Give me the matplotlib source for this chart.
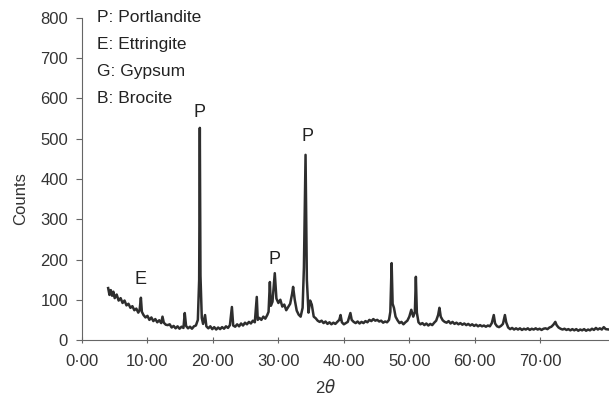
import matplotlib.pyplot as plt
from matplotlib.ticker import FuncFormatter

plt.rcParams['font.family'] = ['Liberation Sans', 'DejaVu Sans']

# 2-theta (degrees) and counts
two_theta = [
    4.0, 4.2, 4.4, 4.6, 4.8, 5.0, 5.3, 5.6, 5.9, 6.2, 6.5, 6.8, 7.1, 7.4, 7.7,
    8.0, 8.3, 8.6, 8.8, 9.0, 9.15, 9.4, 9.7, 10.0, 10.3, 10.6, 10.9, 11.2, 11.5,
    11.8, 12.1, 12.3, 12.5, 12.8, 13.1, 13.4, 13.7, 14.0, 14.3, 14.6, 14.9, 15.2,
    15.5, 15.7, 15.9, 16.2, 16.5, 16.8, 17.1, 17.4, 17.7, 17.9, 18.0, 18.1, 18.3,
    18.5, 18.8, 19.0, 19.3, 19.6, 19.9, 20.2, 20.5, 20.8, 21.1, 21.4, 21.7, 22.0,
    22.3, 22.6, 22.9, 23.1, 23.4, 23.7, 24.0, 24.3, 24.6, 24.9, 25.2, 25.5, 25.8,
    26.1, 26.4, 26.7, 26.85, 27.1, 27.4, 27.7, 28.0, 28.3, 28.5, 28.7, 28.85,
    29.1, 29.45, 29.7, 30.0, 30.3, 30.6, 30.9, 31.2, 31.5, 31.8, 32.1, 32.25,
    32.5, 32.8, 33.1, 33.4, 33.7, 33.9, 34.15, 34.35, 34.6, 34.85, 35.1, 35.4,
    35.7, 36.0, 36.3, 36.6, 36.9, 37.2, 37.5, 37.8, 38.1, 38.4, 38.7, 39.0, 39.3,
    39.5, 39.7, 40.0, 40.3, 40.6, 41.0, 41.2, 41.5, 41.8, 42.1, 42.4, 42.7, 43.0,
    43.3, 43.6, 43.9, 44.2, 44.5, 44.8, 45.1, 45.4, 45.7, 46.0, 46.3, 46.6, 46.9,
    47.1, 47.3, 47.45, 47.65, 47.9, 48.2, 48.5, 48.8, 49.1, 49.4, 49.7, 50.0,
    50.3, 50.6, 50.85, 51.0, 51.15, 51.4, 51.7, 52.0, 52.3, 52.6, 52.9, 53.2,
    53.5, 53.8, 54.1, 54.4, 54.6, 54.8, 55.1, 55.4, 55.7, 56.0, 56.3, 56.6, 56.9,
    57.2, 57.5, 57.8, 58.1, 58.4, 58.7, 59.0, 59.3, 59.6, 59.9, 60.2, 60.5, 60.8,
    61.1, 61.4, 61.7, 62.0, 62.3, 62.6, 62.9, 63.1, 63.4, 63.7, 64.0, 64.3, 64.6,
    64.8, 65.1, 65.4, 65.7, 66.0, 66.3, 66.6, 66.9, 67.2, 67.5, 67.8, 68.1, 68.4,
    68.7, 69.0, 69.3, 69.6, 69.9, 70.2, 70.5, 70.8, 71.1, 71.4, 71.7, 72.0, 72.3,
    72.5, 72.8, 73.1, 73.4, 73.7, 74.0, 74.3, 74.6, 74.9, 75.2, 75.5, 75.8, 76.1,
    76.4, 76.7, 77.0, 77.3, 77.6, 77.9, 78.2, 78.5, 78.8, 79.1, 79.4, 79.7, 80.0,
    80.5,
]
counts = [
    129, 112, 124, 110, 120, 104, 113, 98, 104, 92, 98, 86, 90, 80, 84,
    74, 78, 68, 74, 105, 70, 62, 56, 60, 50, 56, 47, 52, 44,
    49, 42, 58, 43, 38, 37, 39, 31, 35, 29, 34, 28, 33,
    30, 67, 35, 29, 33, 28, 34, 36, 50, 150, 527, 160, 55,
    40, 62, 34, 29, 34, 27, 32, 26, 31, 27, 32, 28, 34,
    30, 37, 82, 36, 33, 39, 34, 41, 36, 43, 39, 45, 41,
    48, 44, 107, 50, 55, 50, 58, 53, 62, 70, 144, 85,
    95, 166, 103, 92, 100, 83, 88, 74, 82, 90, 115, 132,
    100, 73, 63, 58, 80, 180, 460, 150, 68, 98, 88, 58,
    54, 48, 45, 48, 42, 46, 40, 44, 39, 43, 40, 45, 50,
    62, 44, 39, 42, 45, 67, 50, 45, 42, 46, 41, 45, 42,
    47, 44, 50, 47, 52, 48, 50, 46, 48, 43, 46, 44, 50,
    70, 191, 90, 80, 58, 49, 42, 45, 39, 44, 48, 58,
    75, 58, 70, 157, 68, 44, 39, 42, 37, 41, 36, 40,
    37, 43, 48, 62, 80, 58, 49, 45, 43, 47, 41, 45, 40,
    43, 39, 42, 38, 41, 37, 40, 36, 39, 35, 38, 34, 37,
    34, 36, 33, 36, 34, 42, 62, 41, 34, 32, 35, 40, 62,
    44, 31, 27, 30, 26, 29, 26, 29, 25, 28, 26, 29, 25,
    28, 26, 29, 26, 28, 25, 28, 29, 27, 31, 33, 38, 45,
    37, 31, 28, 26, 28, 25, 27, 24, 27, 24, 27, 23, 26,
    24, 27, 23, 26, 24, 28, 25, 30, 26, 29, 26, 32, 27,
    26,
]

# peak labels
peak_letters = ['E', 'P', 'P', 'P']
peak_pos = [9.0, 18.0, 29.4, 34.4]
peak_text_y = [128, 545, 178, 484]

phase_legend = ['P: Portlandite', 'E: Ettringite', 'G: Gypsum', 'B: Brocite']
legend_y = [800, 733, 666, 599]

fig = plt.figure(figsize=(6.09, 4.0), dpi=100)
ax = fig.add_axes([0.1346, 0.15, 0.8654, 0.805])

ax.plot(two_theta, counts, color='#2e2e2e', lw=1.8)

for letter, x, y in zip(peak_letters, peak_pos, peak_text_y):
    ax.text(x, y, letter, ha='center', va='bottom', fontsize=13, color='#222222')

for label, y in zip(phase_legend, legend_y):
    ax.text(2.3, y, label, ha='left', va='center', fontsize=12.5, color='#222222')

ax.set_xlim(0, 80.5)
ax.set_ylim(0, 800)
ax.set_yticks(range(0, 801, 100))
ax.set_xticks(range(0, 71, 10))
ax.xaxis.set_major_formatter(FuncFormatter(lambda v, p: f"{v:.2f}".replace('.', '\u00b7')))

for side in ['top', 'right']:
    ax.spines[side].set_visible(False)
for side in ['left', 'bottom']:
    ax.spines[side].set_color('#666666')
    ax.spines[side].set_linewidth(0.8)

ax.tick_params(axis='y', direction='out', length=4, width=0.8, color='#666666',
               labelsize=12, labelcolor='#333333', pad=6)
ax.tick_params(axis='x', direction='inout', length=4, width=0.8, color='#666666',
               labelsize=12, labelcolor='#333333', pad=8)

ax.set_ylabel('Counts', fontsize=12, color='#333333')
ax.yaxis.set_label_coords(-0.102, 0.438)
ax.set_xlabel(r'2$\theta$', fontsize=12, color='#333333')
ax.xaxis.set_label_coords(0.463, -0.118)

fig.savefig('out.png', dpi=100)
